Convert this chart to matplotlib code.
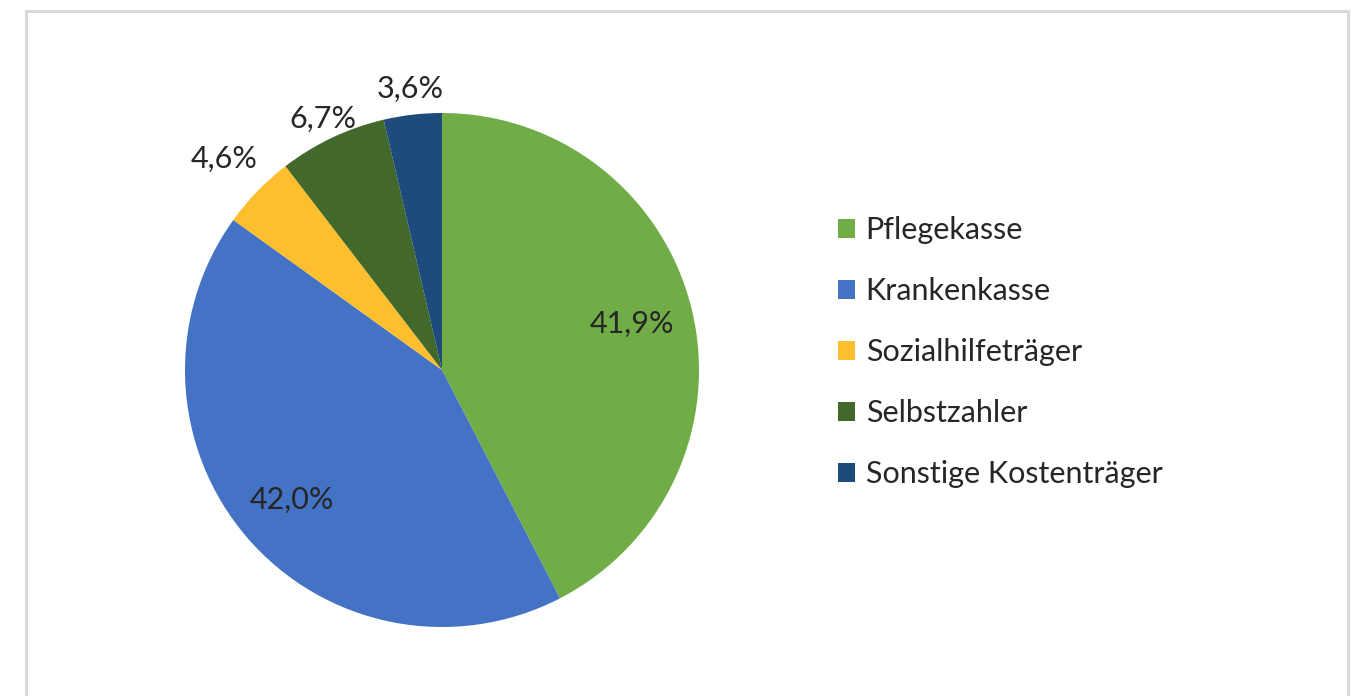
import numpy as np
import matplotlib.pyplot as plt
from matplotlib.lines import Line2D

# Anteile der Kostenträger (in %)
categories = ['Pflegekasse', 'Krankenkasse', 'Sozialhilfeträger', 'Selbstzahler', 'Sonstige Kostenträger']
shares = [41.9, 42.0, 4.6, 6.7, 3.6]
colors = ['#70AD47', '#4472C4', '#FDBF2D', '#43682B', '#1C4B7C']

plt.rcParams['font.family'] = ['Lato', 'DejaVu Sans']
text_color = '#262626'
fs = 22

W, H = 1360, 696
fig = plt.figure(figsize=(W / 100, H / 100), dpi=100)

# chart frame (light grey, open at the bottom)
frame_kw = dict(color='#D9D9D9', lw=2.2, transform=fig.transFigure)
x0, x1, y1 = 25.5 / W, 1347.5 / W, 1 - 10.5 / H
fig.add_artist(Line2D([x0, x0], [-0.01, y1], **frame_kw))
fig.add_artist(Line2D([x0, x1], [y1, y1], **frame_kw))
fig.add_artist(Line2D([x1, x1], [y1, -0.01], **frame_kw))

# pie centred at (442, 370) px, radius 257 px
cx, cy, r = 442, 370, 257
ax = fig.add_axes([(cx - r) / W, (H - cy - r) / H, 2 * r / W, 2 * r / H])
wedges, _ = ax.pie(shares, colors=colors, startangle=90, counterclock=False,
                   wedgeprops=dict(linewidth=0))
ax.set_xlim(-1, 1)
ax.set_ylim(-1, 1)
ax.set_aspect('equal')
ax.axis('off')

# value labels: inside for the large slices, outside for the small ones
label_dist = [0.76, 0.77, 1.18, 1.08, 1.10]
for w, val, d in zip(wedges, shares, label_dist):
    ang = np.deg2rad((w.theta1 + w.theta2) / 2)
    txt = f'{val:.1f}%'.replace('.', ',')
    ax.text(d * np.cos(ang), d * np.sin(ang), txt, ha='center', va='center',
            fontsize=fs, color=text_color, clip_on=False)

fig.legend(wedges, categories, loc='center left',
           bbox_to_anchor=(810 / W, 1 - 352 / H), frameon=False,
           fontsize=fs, labelcolor=text_color, handlelength=0.56,
           handleheight=0.56, handletextpad=0.36, labelspacing=1.08)

fig.savefig('out.png', dpi=100, facecolor='white')
